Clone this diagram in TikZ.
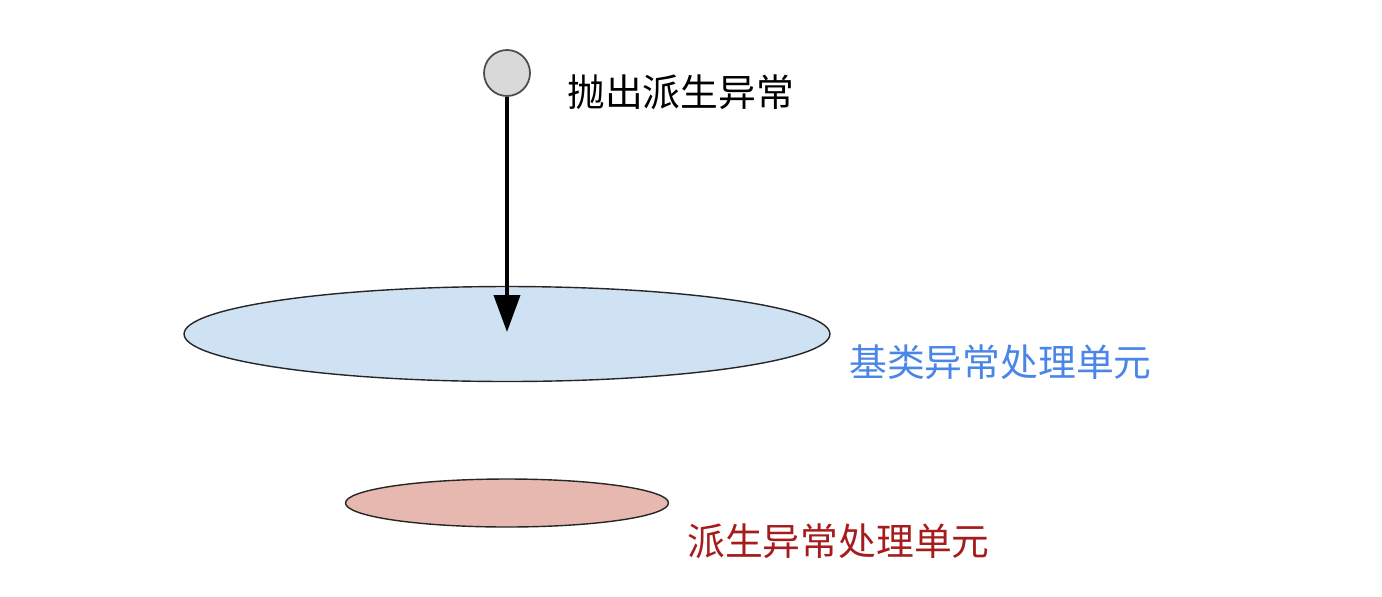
\documentclass[tikz,border=0pt]{standalone}
\usepackage{fontspec}
\setmainfont{Noto Sans CJK SC}
\usepackage{tikz}
\usetikzlibrary{arrows.meta,positioning,shapes.geometric}
\definecolor{baseblue}{HTML}{CFE2F3}
\definecolor{basetext}{HTML}{4A86E8}
\definecolor{derivred}{HTML}{E6B8AF}
\definecolor{derivtext}{HTML}{A61C1C}
\definecolor{ballgray}{HTML}{D9D9D9}

\begin{document}
\begin{tikzpicture}[
      x=0.02cm, y=-0.02cm,
      every node/.style={font=\fontsize{21.5pt}{24pt}\selectfont},
      disc/.style={ellipse, draw=black!85, line width=0.8pt, inner sep=0pt},
      ball/.style={circle, draw=black!70, line width=1pt, fill=ballgray,
                   minimum size=0.92cm, inner sep=0pt},
      arr/.style={-{Triangle[length=7.4mm, width=5.2mm]}, line width=2.3pt},
      lbl/.style={anchor=west, inner sep=0pt},
    ]
    \useasboundingbox (0,0) rectangle (1382,596);
    % ── Throw point ─────────────────────────────────────────
    \node[ball] (throw) at (507,73) {};
    \node[lbl] (throwlbl) at (567,92) {抛出派生异常};

    % ── Handlers ────────────────────────────────────────────
    \node[disc, fill=baseblue, minimum width=12.92cm, minimum height=1.9cm]
      (base) at (507,334) {};
    \node[lbl, text=basetext] (baselbl) at (849,362) {基类异常处理单元};

    \node[disc, fill=derivred, minimum width=6.46cm, minimum height=0.96cm]
      (deriv) at (507,503) {};
    \node[lbl, text=derivtext] (derivlbl) at (687,541) {派生异常处理单元};

    % ── Arrow ───────────────────────────────────────────────
    \coordinate (hit) at ([yshift=0.04cm]base.center);
    \draw[arr] (throw.south) -- (hit);
  \end{tikzpicture}
\end{document}
